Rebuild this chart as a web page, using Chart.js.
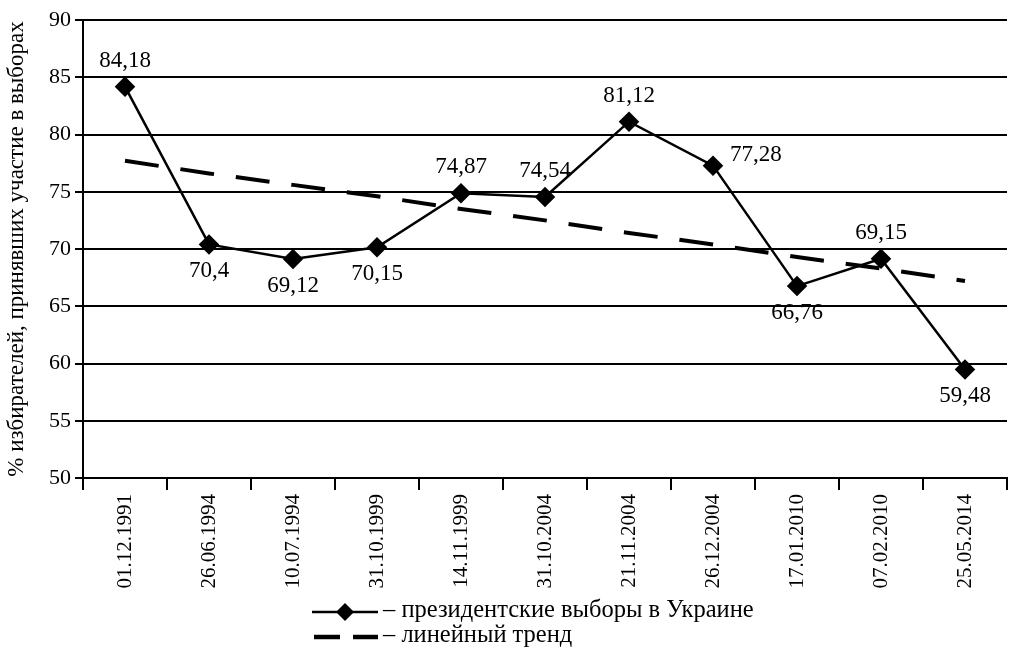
<!DOCTYPE html>
<html>
<head>
<meta charset="utf-8">
<script src="https://cdn.jsdelivr.net/npm/chart.js@4/dist/chart.umd.min.js"></script>
<style>
  html, body { margin: 0; padding: 0; background: #fff; overflow: hidden; }
  #wrap { width: 1018px; height: 650px; }
</style>
</head>
<body>
<div id="wrap"><canvas id="myChart"></canvas></div>
<script>
const dates = ["01.12.1991", "26.06.1994", "10.07.1994", "31.10.1999", "14.11.1999",
  "31.10.2004", "21.11.2004", "26.12.2004", "17.01.2010", "07.02.2010", "25.05.2014"];
const turnout = [84.18, 70.4, 69.12, 70.15, 74.87, 74.54, 81.12, 77.28, 66.76, 69.15, 59.48];
// trend values
const trend = [77.7, 76.6, 75.6, 74.6, 73.5, 72.5, 71.4, 70.4, 69.3, 68.3, 67.2];
const yTicks = [50, 55, 60, 65, 70, 75, 80, 85, 90];
const labelPlace = ["above", "below", "below", "below", "above", "above", "above", "right", "below", "above", "below"];

const serif = '"Liberation Serif", "DejaVu Serif", serif';

const pointLabels = {
  id: 'pointLabels',
  afterDatasetsDraw(chart) {
    const ctx = chart.ctx;
    const meta = chart.getDatasetMeta(1);
    ctx.save();
    ctx.font = '23px ' + serif;
    ctx.fillStyle = '#000';
    ctx.textBaseline = 'alphabetic';
    meta.data.forEach((pt, i) => {
      const txt = String(turnout[i]).replace('.', ',');
      const place = labelPlace[i];
      if (place === 'above') {
        ctx.textAlign = 'center';
        ctx.fillText(txt, pt.x, pt.y - 20);
      } else if (place === 'below') {
        ctx.textAlign = 'center';
        ctx.fillText(txt, pt.x, pt.y + 33);
      } else {
        ctx.textAlign = 'left';
        ctx.fillText(txt, pt.x + 17, pt.y - 5);
      }
    });
    ctx.restore();
  }
};

const legendDraw = {
  id: 'legendDraw',
  afterDraw(chart) {
    const ctx = chart.ctx;
    ctx.save();
    ctx.strokeStyle = '#000';
    ctx.fillStyle = '#000';
    // row 1: solid line with diamond
    ctx.lineWidth = 2.5;
    ctx.beginPath(); ctx.moveTo(312, 612); ctx.lineTo(378, 612); ctx.stroke();
    ctx.beginPath();
    ctx.moveTo(345, 603); ctx.lineTo(354, 612); ctx.lineTo(345, 621); ctx.lineTo(336, 612);
    ctx.closePath(); ctx.fill();
    // row 2: dashed line
    ctx.lineWidth = 4.5;
    ctx.beginPath(); ctx.moveTo(314, 637); ctx.lineTo(340, 637); ctx.stroke();
    ctx.beginPath(); ctx.moveTo(353, 637); ctx.lineTo(378, 637); ctx.stroke();
    ctx.font = '24.5px ' + serif;
    ctx.textAlign = 'left'; ctx.textBaseline = 'middle';
    ctx.fillText('– президентские выборы в Украине', 383, 611);
    ctx.fillText('– линейный тренд', 383, 636);
    ctx.restore();
  }
};

new Chart(document.getElementById('myChart').getContext('2d'), {
  type: 'line',
  data: {
    labels: dates,
    datasets: [
      {
        label: 'линейный тренд',
        data: trend,
        borderColor: '#000',
        borderWidth: 4,
        borderDash: [34, 22],
        pointRadius: 0,
        fill: false,
        tension: 0
      },
      {
        label: 'президентские выборы в Украине',
        data: turnout,
        borderColor: '#000',
        backgroundColor: '#000',
        borderWidth: 2.5,
        pointStyle: 'rectRot',
        pointRadius: 8.5,
        pointHoverRadius: 8.5,
        fill: false,
        tension: 0
      }
    ]
  },
  options: {
    responsive: true,
    maintainAspectRatio: false,
    animation: false,
    events: [],
    layout: { padding: { top: 20, right: 0, left: 0, bottom: 0 } },
    plugins: {
      legend: { display: false },
      tooltip: { enabled: false }
    },
    scales: {
      x: {
        type: 'category',
        offset: true,
        grid: {
          offset: true,
          drawOnChartArea: false,
          drawTicks: true,
          tickLength: 12,
          color: '#000',
          lineWidth: 2
        },
        border: { color: '#000', width: 2 },
        ticks: {
          color: '#000',
          font: { family: serif, size: 21 },
          minRotation: 90,
          maxRotation: 90,
          padding: 4,
          autoSkip: false
        },
        afterFit(scale) { scale.height = 172; }
      },
      y: {
        min: 50,
        max: 90,
        afterBuildTicks(scale) { scale.ticks = yTicks.map(v => ({ value: v })); },
        grid: {
          color: '#000',
          lineWidth: 2,
          tickLength: 8
        },
        border: { color: '#000', width: 2 },
        ticks: {
          color: '#000',
          font: { family: serif, size: 22 },
          padding: 4
        },
        title: {
          display: true,
          text: '% избирателей, принявших участие в выборах',
          color: '#000',
          font: { family: serif, size: 23 },
          padding: { top: 3, bottom: 2 }
        },
        afterFit(scale) { scale.width = 83; }
      }
    }
  },
  plugins: [pointLabels, legendDraw]
});
</script>
</body>
</html>
